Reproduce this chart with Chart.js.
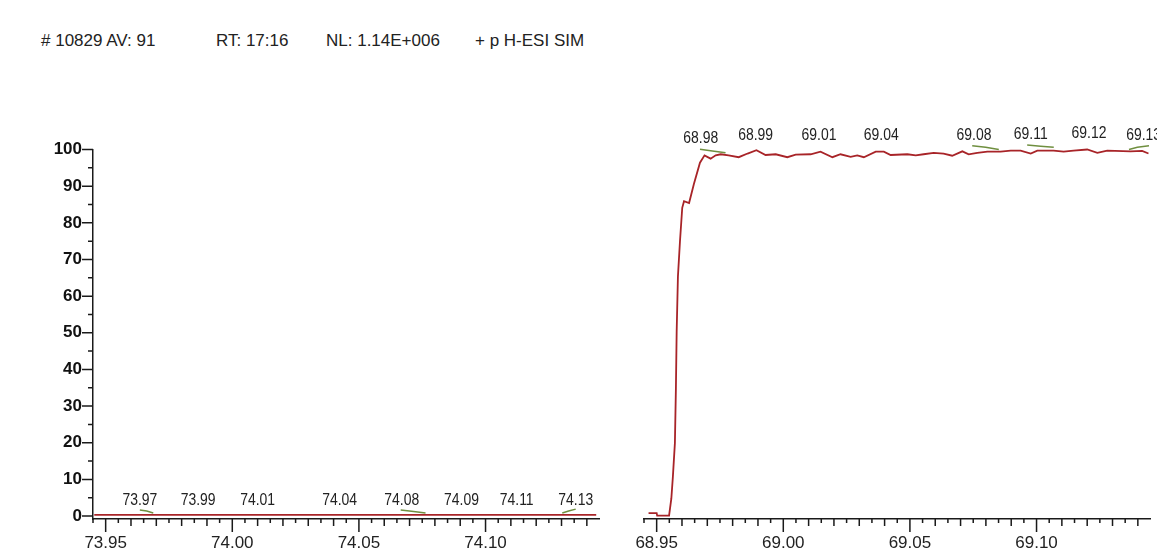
<!DOCTYPE html>
<html>
<head>
<meta charset="utf-8">
<script src="https://cdn.jsdelivr.net/npm/chart.js@4.4.1/dist/chart.umd.min.js"></script>
<style>
  html, body { margin: 0; padding: 0; background: #fff; }
  #wrap { position: relative; width: 1157px; height: 550px; overflow: hidden; }
  canvas { position: absolute; top: 0; }
  #left { left: 0; }
  #right { left: 620px; }
  .hdr { position: absolute; top: 31px; font: 17px "Liberation Sans", Arial, sans-serif; color: #222; line-height: 20px; white-space: nowrap; }
</style>
</head>
<body>
<div id="wrap">
  <span class="hdr" style="left:41px"># 10829 AV: 91</span>
  <span class="hdr" style="left:216px">RT: 17:16</span>
  <span class="hdr" style="left:326px">NL: 1.14E+006</span>
  <span class="hdr" style="left:475px">+ p H-ESI SIM</span>
  <canvas id="left" width="620" height="550"></canvas>
  <canvas id="right" width="537" height="550"></canvas>
</div>
<script>
// left panel (m/z 73.95 - 74.14), flat at baseline
const leftX = [73.9455, 73.9800, 74.0200, 74.0600, 74.1000, 74.1437];
const leftY = [0.3, 0.3, 0.3, 0.3, 0.3, 0.3];

// right panel (m/z 68.95 - 69.14)
const rightX = [68.9468, 68.9500, 68.9502, 68.9549, 68.9558, 68.9564, 68.9572, 68.9576, 68.9579, 68.9584,
  68.9592, 68.9601, 68.9608, 68.9628, 68.9647, 68.9671, 68.9689, 68.9713, 68.9733, 68.9753,
  68.9784, 68.9824, 68.9859, 68.9894, 68.9930, 68.9970, 69.0016, 69.0049, 69.0108, 69.0147,
  69.0194, 69.0226, 69.0266, 69.0292, 69.0318, 69.0365, 69.0397, 69.0424, 69.0490, 69.0523,
  69.0554, 69.0594, 69.0633, 69.0667, 69.0707, 69.0732, 69.0766, 69.0806, 69.0858, 69.0898,
  69.0937, 69.0977, 69.1003, 69.1067, 69.1107, 69.1146, 69.1200, 69.1240, 69.1279, 69.1371,
  69.1417, 69.1442];
const rightY = [0.8, 0.8, 0.1, 0.1, 4.8, 10.7, 19.9, 34.9, 50.4, 65.4,
  74.9, 84.1, 85.9, 85.4, 90.6, 96.4, 98.4, 97.5, 98.4, 98.7,
  98.4, 97.9, 98.9, 99.8, 98.5, 98.7, 97.9, 98.6, 98.7, 99.4,
  97.9, 98.7, 98.0, 98.4, 97.9, 99.4, 99.4, 98.5, 98.7, 98.4,
  98.7, 99.1, 98.9, 98.3, 99.5, 98.7, 99.1, 99.4, 99.4, 99.7,
  99.7, 98.9, 99.7, 99.7, 99.4, 99.7, 100.0, 99.1, 99.7, 99.5,
  99.6, 98.9];

// peak labels
const leftPeakText = ['73.97', '73.99', '74.01', '74.04', '74.08', '74.09', '74.11', '74.13'];
const leftPeakX = [73.9635, 73.9865, 74.0100, 74.0424, 74.0669, 74.0905, 74.1123, 74.1356];
const leftPeakY = [4.4, 4.4, 4.4, 4.4, 4.4, 4.4, 4.4, 4.4];
const rightPeakText = ['68.98', '68.99', '69.01', '69.04', '69.08', '69.11', '69.12', '69.13'];
const rightPeakX = [68.9674, 68.9891, 69.0141, 69.0387, 69.0753, 69.0977, 69.1207, 69.1423];
const rightPeakY = [103.1, 103.9, 103.9, 103.9, 103.9, 104.2, 104.4, 103.9];

// green centroid marks
const leftMarkX = [[73.9635, 73.9662, 73.9688], [74.0665, 74.0716, 74.0763], [74.1303, 74.1328, 74.1356]];
const leftMarkY = [[1.64, 1.36, 0.82], [1.64, 1.23, 0.82], [0.82, 1.36, 1.90]];
const rightMarkX = [[68.9671, 68.9720, 68.9772], [69.0746, 69.0799, 69.0851], [69.0963, 69.1016, 69.1068], [69.1365, 69.1398, 69.1444]];
const rightMarkY = [[100.1, 99.6, 99.1], [101.0, 100.6, 100.0], [101.2, 100.9, 100.6], [100.0, 100.6, 101.0]];

// axis ticks
const yTicks = [0, 10, 20, 30, 40, 50, 60, 70, 80, 90, 100];
const leftXTicks = [73.95, 74.00, 74.05, 74.10];
const rightXTicks = [68.95, 69.00, 69.05, 69.10];

const FONT = '"Liberation Sans", Arial, sans-serif';
const RED = '#a82428';
const GREEN = '#6f8f3f';
const INK = '#1a1a1a';

function points(xs, ys) {
  return xs.map((x, i) => ({ x: x, y: ys[i] }));
}

// minor/major tick marks drawn like the instrument software does
const axisTicks = {
  id: 'axisTicks',
  afterDraw(chart, args, opts) {
    const { ctx, chartArea } = chart;
    const xs = chart.scales.x, ys = chart.scales.y;
    ctx.save();
    ctx.strokeStyle = INK;
    ctx.lineWidth = 1.5;
    ctx.beginPath();
    const start = Math.ceil(xs.min / 0.005 - 1e-6);
    const end = Math.floor(xs.max / 0.005 + 1e-6);
    for (let i = start; i <= end; i++) {
      const px = xs.getPixelForValue(i * 0.005);
      const len = i % 10 === 0 ? 13 : (i % 2 === 0 ? 7 : 4);
      ctx.moveTo(px, chartArea.bottom);
      ctx.lineTo(px, chartArea.bottom + len);
    }
    if (opts.yTicks) {
      for (let v = 0; v <= 100; v += 5) {
        const py = ys.getPixelForValue(v);
        const len = v % 10 === 0 ? 11 : 5;
        ctx.moveTo(chartArea.left, py);
        ctx.lineTo(chartArea.left - len, py);
      }
    }
    ctx.stroke();
    ctx.restore();
  }
};

// narrow peak labels
const peakLabels = {
  id: 'peakLabels',
  afterDatasetsDraw(chart, args, opts) {
    const { ctx } = chart;
    const xs = chart.scales.x, ys = chart.scales.y;
    ctx.save();
    ctx.fillStyle = '#222';
    ctx.font = '17px ' + FONT;
    ctx.textAlign = 'center';
    ctx.textBaseline = 'middle';
    opts.texts.forEach((t, i) => {
      ctx.save();
      ctx.translate(xs.getPixelForValue(opts.xs[i]), ys.getPixelForValue(opts.ys[i]));
      ctx.scale(0.82, 1);
      ctx.fillText(t, 0, 0);
      ctx.restore();
    });
    ctx.restore();
  }
};

function makeChart(id, cfg) {
  const datasets = [{
    data: points(cfg.lineX, cfg.lineY),
    borderColor: RED,
    borderWidth: 1.8,
    clip: false
  }];
  cfg.markX.forEach((mx, i) => {
    datasets.push({
      data: points(mx, cfg.markY[i]),
      borderColor: GREEN,
      borderWidth: 1.5,
      clip: false
    });
  });

  return new Chart(document.getElementById(id), {
    type: 'line',
    data: { datasets: datasets },
    options: {
      responsive: false,
      animation: false,
      events: [],
      layout: { padding: cfg.padding },
      elements: { point: { radius: 0 }, line: { tension: 0 } },
      plugins: {
        legend: { display: false },
        tooltip: { enabled: false },
        axisTicks: { yTicks: cfg.showY },
        peakLabels: { texts: cfg.peakText, xs: cfg.peakX, ys: cfg.peakY }
      },
      scales: {
        x: {
          type: 'linear',
          min: cfg.xMin,
          max: cfg.xMax,
          grid: { display: false, drawTicks: false },
          border: { display: true, color: INK, width: 1.5 },
          afterBuildTicks: (s) => { s.ticks = cfg.xTicks.map(v => ({ value: v })); },
          afterFit: (s) => { s.height = 31; },
          ticks: {
            padding: 14,
            color: '#222',
            font: { family: FONT, size: 17 },
            maxRotation: 0,
            autoSkip: false,
            callback: (v) => Number(v).toFixed(2)
          }
        },
        y: {
          display: cfg.showY,
          min: -0.8,
          max: 100,
          grid: { display: false, drawTicks: false },
          border: { display: true, color: INK, width: 1.5 },
          afterBuildTicks: (s) => { s.ticks = yTicks.map(v => ({ value: v })); },
          afterFit: (s) => { s.width = cfg.showY ? 93 : 0; },
          ticks: {
            padding: 11,
            color: '#111',
            font: { family: FONT, size: 17, weight: 'bold' },
            callback: (v) => String(v)
          }
        }
      }
    },
    plugins: [axisTicks, peakLabels]
  });
}

makeChart('left', {
  lineX: leftX, lineY: leftY,
  markX: leftMarkX, markY: leftMarkY,
  peakText: leftPeakText, peakX: leftPeakX, peakY: leftPeakY,
  xMin: 73.945, xMax: 74.1448, xTicks: leftXTicks,
  showY: true,
  padding: { top: 149.5, right: 21, bottom: 0, left: 0 }
});

makeChart('right', {
  lineX: rightX, lineY: rightY,
  markX: rightMarkX, markY: rightMarkY,
  peakText: rightPeakText, peakX: rightPeakX, peakY: rightPeakY,
  xMin: 68.945, xMax: 69.1448, xTicks: rightXTicks,
  showY: false,
  padding: { top: 149.5, right: 7, bottom: 0, left: 24 }
});
</script>
</body>
</html>
